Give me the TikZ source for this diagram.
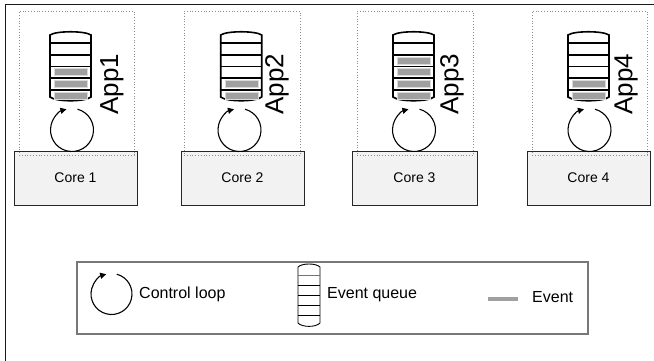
\documentclass[tikz,border=0pt]{standalone}
\usepackage{fontspec}
\setmainfont{Liberation Sans}
\usetikzlibrary{arrows.meta,calc}
\definecolor{evgray}{RGB}{160,160,160}
\definecolor{corefill}{RGB}{242,242,242}
\definecolor{legframe}{RGB}{120,120,120}
\begin{document}
\begin{tikzpicture}[x=1pt,y=-1pt,
  corebox/.style={draw=black!85, fill=corefill, line width=0.9pt, inner sep=0pt, minimum height=54pt, font=\fontsize{14}{16}\selectfont},
  appbox/.style={draw=black!45, dotted, line width=0.8pt, inner sep=0pt, minimum height=144pt},
  qline/.style={line width=1.6pt, draw=black},
  qthin/.style={line width=0.9pt, draw=black},
  evbar/.style={fill=evgray, draw=evgray!40, line width=0.4pt},
  looparrow/.style={line width=1.1pt, -{Triangle[length=6pt,width=6pt]}},
  applabel/.style={rotate=90, inner sep=0pt, font=\fontsize{26}{30}\selectfont},
  legtext/.style={anchor=west, inner sep=0pt, font=\fontsize{16}{19}\selectfont}
]
\useasboundingbox (0,0) rectangle (654,361);
\clip (0,0) rectangle (654,361);
% outer frame
\draw[line width=1.8pt, black!90] (5.5,370) -- (5.5,4.5) -- (670,4.5);

\foreach \i/\cxa/\cxb/\dxa/\dxb/\qx/\ccx/\tx/\first in
  {1/14/137/19/134/50/72/112/4,
   2/181/304/184/300/220.7/239.5/277/5,
   3/352/477/357/473/393/414/452/3,
   4/527/650/532/647/568/589.5/626/5}{
  % core
  \node[corebox, minimum width={\cxb-\cxa}] (core\i) at ({(\cxa+\cxb)/2},178) {Core \i};
  % app dotted box
  \node[appbox, minimum width={\dxb-\dxa}] (app\i) at ({(\dxa+\dxb)/2},83) {};
  % queue
  \begin{scope}[shift={(\qx,31.7)}]
    \draw[qline, fill=white] (0,3.3) .. controls (6,-1) and (35,-1) .. (41,3.3)
      -- (41,65.3) .. controls (35,70.3) and (6,70.3) .. (0,65.3) -- cycle;
    \foreach \d in {11.6,23.3,35,46.6,58.3}{
      \draw[qline] (0,\d) -- (41,\d);
    }
  \end{scope}
  \foreach \s in {\first,...,6}{
    \pgfmathsetmacro\yc{{0,0,0,60.8,72,84,96}[\s]}
    \draw[evbar] ({\qx+4},{\yc-3.5}) rectangle ({\qx+37},{\yc+3.5});
  }
  % control loop
  \coordinate (lc\i) at (\ccx,130);
  \draw[looparrow] ($(lc\i)+(75:21.5pt)$) arc[start angle=75, end angle=-255, radius=21.5pt];
  % label
  \node[applabel] (lbl\i) at (\tx,84) {App\i};
}

% legend
\node[draw=legframe, line width=1.1pt, inner sep=0pt, minimum width=511pt, minimum height=72pt] (legend) at (332.5,298) {};
\coordinate (llc) at (111.5,294);
\draw[looparrow] ($(llc)+(75:20.5pt)$) arc[start angle=75, end angle=-255, radius=20.5pt];
\node[legtext] (tloop) at (139,294) {Control loop};
\begin{scope}[shift={(298,264)}]
  \draw[qthin, fill=white] (0,3) .. controls (4,-1) and (18,-1) .. (22,3)
    -- (22,59) .. controls (18,63.5) and (4,63.5) .. (0,59) -- cycle;
  \draw[line width=0.9pt, black!55] (0,11.7) -- (22,11.7);
  \foreach \d in {21,31,41,51}{
    \draw[qthin] (0,\d) -- (22,\d);
  }
\end{scope}
\node[legtext] (tqueue) at (327,295) {Event queue};
\fill[evgray] (488,296.5) rectangle (518,301);
\node[legtext] (tevent) at (532,297) {Event};
\end{tikzpicture}
\end{document}
